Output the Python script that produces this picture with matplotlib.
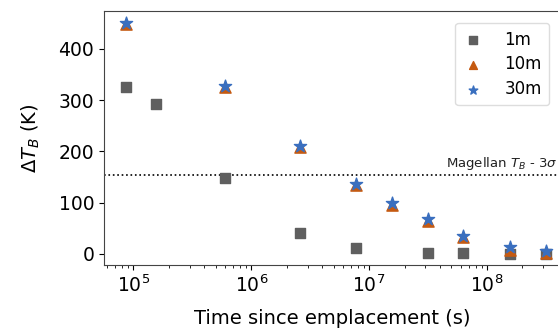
import matplotlib
matplotlib.use("Agg")
import matplotlib.pyplot as plt

t_1m = [8.6e4, 1.56e5, 6.0e5, 2.6e6, 7.8e6, 3.15e7, 6.3e7, 1.56e8, 3.15e8]
dT_1m = [326, 293, 148, 40, 11, 2.5, 1, 0, 0]
t_10m = [8.6e4, 6.0e5, 2.6e6, 7.8e6, 1.57e7, 3.15e7, 6.3e7, 1.56e8, 3.15e8]
dT_10m = [449, 325, 208, 134, 96, 64, 34, 8, 1]
t_30m = t_10m
dT_30m = [451, 328, 211, 137, 100, 68, 36, 14, 6]
magellan = 155

fig = plt.figure(figsize=(5.58, 3.32), dpi=100)
ax = fig.add_axes([104/558, 1-265/332, 456/558, 254/332])

ax.scatter(t_1m, dT_1m, marker='s', s=55, color='#5f5f5f', label='1m', zorder=3)
ax.scatter(t_10m, dT_10m, marker='^', s=65, color='#c55a11', label='10m', zorder=3)
ax.scatter(t_30m, dT_30m, marker='*', s=85, color='#3a6fbf', label='30m', zorder=4)
ax.axhline(magellan, color='black', linestyle=':', linewidth=1.2)
ax.text(3.95e8, magellan + 4, r'Magellan $T_B$ - 3$\sigma$', ha='right', va='bottom', fontsize=9.5, color='#222222')

ax.set_xscale('log')
ax.set_xlim(10**4.75, 10**8.62)
ax.set_ylim(-21.5, 474)
ax.set_yticks([0, 100, 200, 300, 400])
ax.tick_params(labelsize=13.5)
ax.set_xlabel('Time since emplacement (s)', fontsize=14, labelpad=9)
ax.set_ylabel(r'$\Delta T_B$ (K)', fontsize=14, labelpad=12)
for s in ax.spines.values():
    s.set_color('#444444')
ax.legend(loc='upper right', fontsize=12, handlelength=1.2, handletextpad=1.3, borderpad=0.45,
          labelspacing=0.4, markerscale=0.7, framealpha=1, edgecolor='#dddddd',
          bbox_to_anchor=(0.995, 0.985))
fig.savefig('out.png', dpi=100)
